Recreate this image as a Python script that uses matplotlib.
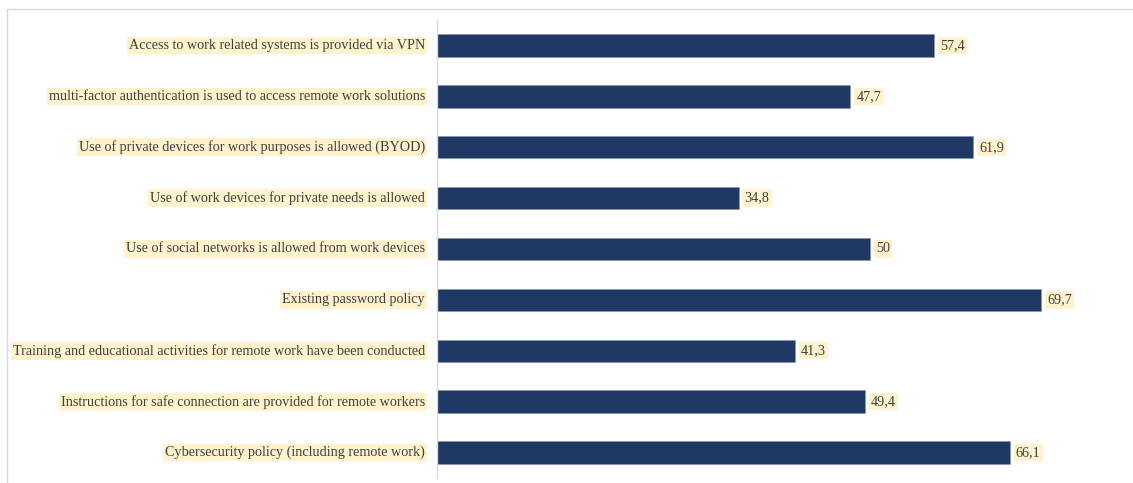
import matplotlib
matplotlib.use("Agg")
import matplotlib.pyplot as plt
from matplotlib.patches import Rectangle

categories = [
    "Access to work related systems is provided via VPN",
    "multi-factor authentication is used to access remote work solutions",
    "Use of private devices for work purposes is allowed (BYOD)",
    "Use of work devices for private needs is allowed",
    "Use of social networks is allowed from work devices",
    "Existing password policy",
    "Training and educational activities for remote work have been conducted",
    "Instructions for safe connection are provided for remote workers",
    "Cybersecurity policy (including remote work)",
]
values = [57.4, 47.7, 61.9, 34.8, 50, 69.7, 41.3, 49.4, 66.1]
value_labels = ["57,4", "47,7", "61,9", "34,8", "50", "69,7", "41,3", "49,4", "66,1"]

W, H = 1133, 483
fig = plt.figure(figsize=(W / 100, H / 100), dpi=100)
plt.rcParams['font.family'] = ['Liberation Serif', 'DejaVu Serif']

# outer frame
fig.patches.append(Rectangle((7 / W, -0.05), 1.1, (H - 9) / H + 0.05, transform=fig.transFigure,
                             fill=False, edgecolor="#D9D9D9", linewidth=1.0))

left, right, top, bottom = 437, 1125, 20, 478
ax = fig.add_axes([left / W, 1 - bottom / H, (right - left) / W, (bottom - top) / H])

n = len(categories)
ypos = list(range(n))
ax.barh(ypos, values, height=0.44, color="#203864", edgecolor="#8496B0", linewidth=0.5)
ax.set_ylim(n - 0.5, -0.5)
ax.set_xlim(0, 79.4)

for sp in ["top", "right", "bottom"]:
    ax.spines[sp].set_visible(False)
ax.spines["left"].set_color("#D9D9D9")
ax.spines["left"].set_linewidth(1.0)
ax.set_xticks([])
ax.set_yticks([])

bbox = dict(boxstyle="square,pad=0.15", facecolor="#FFF2CC", edgecolor="none")
for y, cat in zip(ypos, categories):
    ax.annotate(cat, xy=(0, y), xytext=(-12, 0), textcoords="offset pixels",
                ha="right", va="center", fontsize=10.15, color="#404040", bbox=bbox)
for y, v, lab in zip(ypos, values, value_labels):
    ax.annotate(lab, xy=(v, y), xytext=(6, 0), textcoords="offset pixels",
                ha="left", va="center", fontsize=10.15, color="#404040", bbox=bbox)

fig.savefig("out.png", dpi=100, facecolor="white")
